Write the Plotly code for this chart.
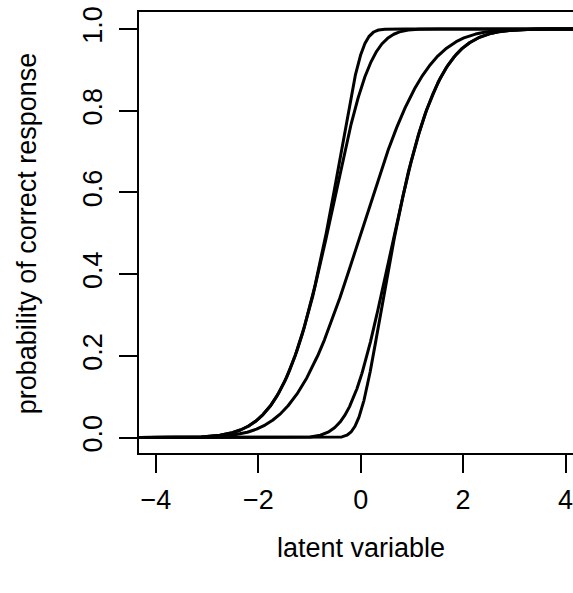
import math
import numpy as np
import plotly.graph_objects as go

# Item characteristic curves: skew-normal ogive items,
# P(theta) = 2 * integral_{-inf}^{theta} phi(t) * Phi(skew * t) dt
item_skew = [-5, -2, 0, 2, 5]
item_location = [0, 0, 0, 0, 0]
item_scale = [1, 1, 1, 1, 1]

x_ticks = [-4, -2, 0, 2, 4]
x_tick_text = ["\u22124", "\u22122", "0", "2", "4"]
y_ticks = [0.0, 0.2, 0.4, 0.6, 0.8, 1.0]
y_tick_text = ["0.0", "0.2", "0.4", "0.6", "0.8", "1.0"]

x_title = "latent variable"
y_title = "probability of correct response"

_erf = np.vectorize(math.erf)


def norm_cdf(z):
    return 0.5 * (1.0 + _erf(z / math.sqrt(2.0)))


def norm_pdf(z):
    return np.exp(-0.5 * z * z) / math.sqrt(2.0 * math.pi)


def skew_normal_icc(theta_grid, skew, loc, scale):
    z = (theta_grid - loc) / scale
    dens = 2.0 * norm_pdf(z) * norm_cdf(skew * z) / scale
    steps = np.diff(theta_grid)
    cum = np.concatenate([[0.0], np.cumsum(0.5 * (dens[1:] + dens[:-1]) * steps)])
    return cum


grid = np.linspace(-9.0, 4.6, 6801)
shown = grid >= -4.6

fig = go.Figure()
for skew, loc, scale in zip(item_skew, item_location, item_scale):
    prob = skew_normal_icc(grid, skew, loc, scale)
    fig.add_trace(
        go.Scatter(
            x=grid[shown],
            y=prob[shown],
            mode="lines",
            line=dict(color="black", width=3),
            hoverinfo="skip",
            showlegend=False,
        )
    )

font_family = "Liberation Sans, Arial, Helvetica, sans-serif"
tick_font = dict(family=font_family, size=27, color="black")
title_font = dict(family=font_family, size=27, color="black")

fig.update_layout(
    width=573,
    height=593,
    margin=dict(l=139, r=0, t=12, b=140),
    paper_bgcolor="white",
    plot_bgcolor="white",
    showlegend=False,
    xaxis=dict(
        range=[-4.33, 4.146],
        tickmode="array",
        tickvals=x_ticks,
        ticktext=x_tick_text,
        ticks="outside",
        ticklen=18,
        tickwidth=1.6,
        tickcolor="black",
        showline=True,
        linecolor="black",
        linewidth=1.6,
        mirror=True,
        showgrid=False,
        zeroline=False,
        tickfont=tick_font,
        ticklabelstandoff=4,
        ticklabeloverflow="allow",
    ),
    yaxis=dict(
        range=[-0.0375, 1.0416],
        tickmode="array",
        tickvals=y_ticks,
        ticktext=y_tick_text,
        ticks="outside",
        ticklen=18,
        tickwidth=1.6,
        tickcolor="black",
        showline=True,
        linecolor="black",
        linewidth=1.6,
        mirror=False,
        showgrid=False,
        zeroline=False,
        tickangle=-90,
        tickfont=tick_font,
        ticklabelstandoff=6,
        ticklabeloverflow="allow",
    ),
    annotations=[
        dict(
            text=x_title,
            xref="x",
            yref="paper",
            x=0,
            y=0,
            xanchor="center",
            yanchor="middle",
            yshift=-95,
            showarrow=False,
            font=title_font,
        ),
        dict(
            text=y_title,
            xref="paper",
            yref="y",
            x=0,
            y=0.5,
            xanchor="center",
            yanchor="middle",
            xshift=-112,
            textangle=-90,
            showarrow=False,
            font=title_font,
        ),
    ],
)

fig.write_html("out.html")
